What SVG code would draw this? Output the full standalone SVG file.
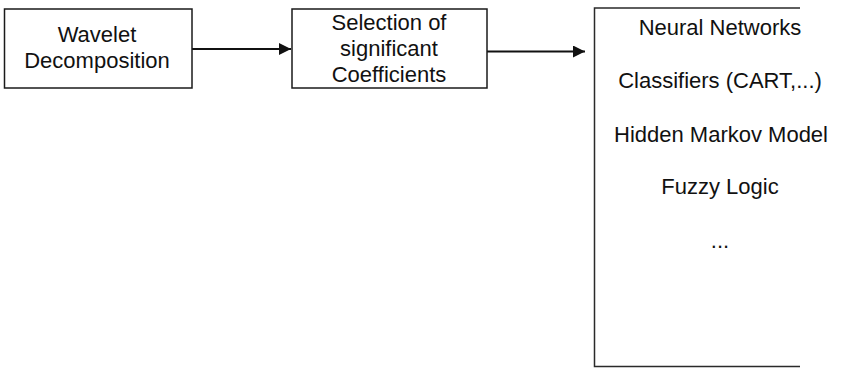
<svg xmlns="http://www.w3.org/2000/svg" width="846" height="368" viewBox="0 0 846 368">
<defs>
<style>
.box{fill:#fff;stroke:#1a1a1a;stroke-width:1.5}
.open{fill:none;stroke:#2a2a2a;stroke-width:1.5}
.t{font-family:"Liberation Sans",Arial,sans-serif;font-size:22px;fill:#111;text-anchor:middle}
.c{stroke:#111;stroke-width:2;fill:none}
</style>
<marker id="ah" viewBox="0 0 12 12" refX="12" refY="6" markerWidth="12" markerHeight="12" markerUnits="userSpaceOnUse" orient="auto">
<path d="M0,0 L12,6 L0,12 Z" fill="#111"/>
</marker>
</defs>
<rect width="846" height="368" fill="#fff"/>
<g id="connectors">
<line class="c" x1="192" y1="49" x2="291" y2="49" marker-end="url(#ah)"/>
<line class="c" x1="487" y1="51.5" x2="585" y2="51.5" marker-end="url(#ah)"/>
</g>
<g id="wavelet">
<rect class="box" x="4.5" y="9" width="187.5" height="79"/>
<text class="t" x="97" y="42">Wavelet</text>
<text class="t" x="97" y="68">Decomposition</text>
</g>
<g id="selection">
<rect class="box" x="292" y="9" width="195" height="79"/>
<text class="t" x="389" y="30">Selection of</text>
<text class="t" x="389" y="56">significant</text>
<text class="t" x="389" y="82">Coefficients</text>
</g>
<g id="methods">
<path class="open" d="M800,8 H594.5 V366.5 H800"/>
<text class="t" x="720" y="35">Neural Networks</text>
<text class="t" x="720" y="88">Classifiers (CART,...)</text>
<text class="t" x="721" y="142">Hidden Markov Model</text>
<text class="t" x="720" y="194">Fuzzy Logic</text>
<text class="t" x="720" y="248">...</text>
</g>
</svg>
